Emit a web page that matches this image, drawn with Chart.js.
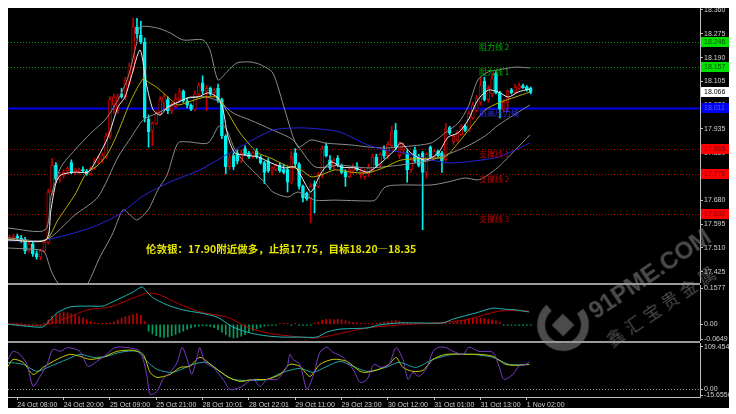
<!DOCTYPE html>
<html lang="zh-CN">
<head>
<meta charset="UTF-8">
<title>伦敦银 H1</title>
<script src="https://cdn.jsdelivr.net/npm/chart.js@4"></script>
<style>
  body { margin: 0; background: #fff; }
  #wrap { position: relative; width: 736px; height: 414px; overflow: hidden; background: #fff; }
  #board { position: absolute; left: 8px; top: 8px; width: 721px; height: 400px; background: #000; }
  canvas { position: absolute; left: 8px; }
  .sep { position: absolute; left: 8px; width: 692px; height: 2px; background: #9a9a9a; }
  #note {
    position: absolute; left: 146px; top: 241px; line-height: 14px;
    font: bold 10.5px "Noto Sans CJK SC", sans-serif; color: #e6e600; white-space: nowrap;
  }
  #wm { position: absolute; left: 537px; top: 299px; width: 220px; height: 80px;
        transform: rotate(-34deg); transform-origin: 26px 26px; color: rgba(150,150,150,0.5); }
  #wm .ring { position: absolute; left: 0; top: 0; width: 36px; height: 36px; border-radius: 50%;
              border: 8px solid rgba(150,150,150,0.5); border-top-color: transparent; transform: rotate(40deg); }
  #wm .sq { position: absolute; left: 18px; top: 18px; width: 16px; height: 16px; background: rgba(150,150,150,0.5); transform: rotate(-12deg); }
  #wm .t1 { position: absolute; left: 56px; top: 18px; font: bold 24px "Liberation Sans", sans-serif; white-space: nowrap; }
  #wm .t2 { position: absolute; left: 54px; top: 52px; font: 17px "Noto Sans CJK SC", sans-serif; letter-spacing: 5px; white-space: nowrap; }
</style>
</head>
<body>
<div id="wrap">
  <div id="board"></div>
  <canvas id="priceChart" width="721" height="275" style="top:8px;width:721px;height:275px"></canvas>
  <div class="sep" style="top:283px"></div>
  <canvas id="macdChart" width="721" height="56" style="top:285px;width:721px;height:56px"></canvas>
  <div class="sep" style="top:341px"></div>
  <canvas id="stochChart" width="721" height="65" style="top:343px;width:721px;height:65px"></canvas>
  <div id="note">伦敦银：17.90附近做多，止损17.75，目标18.20—18.35</div>
  <div id="wm"><div class="ring"></div><div class="sq"></div><div class="t1">91PME.COM</div><div class="t2">鑫汇宝贵金属</div></div>
</div>

<script>
// ---- data (H1 bars, index 0 = 24 Oct 06:00) ----
const timeLabels = ['24 Oct 08:00','24 Oct 20:00','25 Oct 09:00','25 Oct 21:00','28 Oct 10:01','28 Oct 22:01',
                    '29 Oct 11:00','29 Oct 23:00','30 Oct 12:00','31 Oct 01:00','31 Oct 13:00','1 Nov 02:00'];
const timeTickIdx = [2, 14, 26, 38, 50, 62, 74, 86, 98, 110, 122, 134];

const open = [17.545,17.548,17.552,17.545,17.540,17.500,17.525,17.490,17.478,17.500,
  17.530,17.710,17.805,17.755,17.770,17.785,17.815,17.780,17.785,17.790,
  17.785,17.775,17.795,17.820,17.825,17.835,17.910,18.020,18.000,18.060,
  18.050,18.100,18.150,18.300,18.270,18.245,17.970,17.930,17.955,17.990,
  18.030,18.040,18.000,18.015,18.040,18.070,18.035,18.020,18.005,18.060,
  18.100,18.070,18.080,18.065,18.080,18.040,17.910,17.800,17.840,17.850,
  17.820,17.865,17.850,17.835,17.855,17.835,17.815,17.820,17.785,17.790,
  17.805,17.790,17.790,17.745,17.850,17.810,17.730,17.705,17.690,17.740,
  17.730,17.770,17.875,17.825,17.800,17.830,17.805,17.785,17.765,17.785,
  17.800,17.775,17.765,17.775,17.790,17.835,17.805,17.860,17.840,17.875,
  17.930,17.840,17.860,17.850,17.790,17.860,17.835,17.850,17.780,17.870,
  17.835,17.855,17.850,17.825,17.940,17.890,17.895,17.915,17.945,17.930,
  17.975,18.000,18.030,18.105,18.040,18.060,18.135,18.065,18.005,18.030,
  18.075,18.065,18.080,18.090,18.085,18.080];
const high = [17.555,17.560,17.560,17.555,17.548,17.530,17.530,17.500,17.505,17.535,
  17.720,17.830,17.815,17.780,17.790,17.800,17.825,17.795,17.795,17.800,
  17.790,17.800,17.830,17.840,17.850,17.920,18.050,18.060,18.060,18.080,
  18.120,18.170,18.330,18.330,18.320,18.260,17.985,17.960,18.000,18.050,
  18.060,18.050,18.030,18.060,18.080,18.075,18.045,18.025,18.070,18.100,
  18.125,18.090,18.085,18.080,18.095,18.045,17.915,17.845,17.850,17.860,
  17.860,17.875,17.855,17.855,17.865,17.840,17.820,17.830,17.800,17.810,
  17.815,17.810,17.800,17.855,17.865,17.815,17.735,17.710,17.740,17.750,
  17.780,17.875,17.885,17.840,17.830,17.840,17.810,17.790,17.795,17.810,
  17.815,17.795,17.790,17.810,17.845,17.845,17.850,17.875,17.890,17.945,
  17.955,17.890,17.885,17.860,17.835,17.870,17.845,17.855,17.850,17.875,
  17.860,17.860,17.855,17.955,17.945,17.915,17.930,17.950,17.950,18.000,
  18.030,18.055,18.120,18.120,18.090,18.135,18.140,18.070,18.040,18.075,
  18.080,18.095,18.100,18.095,18.090,18.085];
const low = [17.535,17.540,17.538,17.530,17.490,17.495,17.480,17.470,17.468,17.495,
  17.525,17.700,17.745,17.745,17.760,17.775,17.775,17.772,17.775,17.780,
  17.770,17.770,17.790,17.810,17.815,17.830,17.900,17.990,17.990,18.045,
  18.040,18.090,18.140,18.260,18.240,17.960,17.870,17.875,17.950,17.985,
  18.000,17.990,17.990,18.010,18.030,18.030,18.010,18.000,18.000,18.050,
  18.060,18.000,18.055,18.050,18.030,17.900,17.775,17.790,17.790,17.810,
  17.815,17.840,17.830,17.830,17.830,17.810,17.740,17.780,17.770,17.785,
  17.780,17.775,17.710,17.740,17.800,17.720,17.675,17.680,17.600,17.635,
  17.725,17.760,17.835,17.790,17.790,17.800,17.775,17.730,17.760,17.775,
  17.785,17.760,17.755,17.765,17.785,17.800,17.800,17.830,17.830,17.870,
  17.860,17.830,17.845,17.745,17.780,17.815,17.800,17.575,17.760,17.830,
  17.830,17.835,17.780,17.820,17.915,17.880,17.890,17.910,17.925,17.925,
  17.970,17.995,18.020,18.035,18.030,18.050,18.060,17.975,17.995,18.000,
  18.060,18.060,18.075,18.080,18.070,18.060];
const close = [17.548,17.552,17.545,17.540,17.500,17.525,17.490,17.478,17.500,17.530,
  17.710,17.805,17.755,17.770,17.780,17.795,17.780,17.790,17.790,17.785,
  17.775,17.795,17.820,17.830,17.840,17.910,18.040,18.050,18.050,18.050,
  18.110,18.160,18.300,18.275,18.245,17.975,17.925,17.955,17.990,18.040,
  18.050,18.000,18.020,18.045,18.070,18.035,18.020,18.005,18.060,18.090,
  18.070,18.080,18.065,18.075,18.040,17.910,17.800,17.835,17.800,17.820,
  17.850,17.845,17.835,17.850,17.835,17.815,17.780,17.785,17.795,17.805,
  17.785,17.780,17.745,17.835,17.810,17.730,17.690,17.685,17.730,17.730,
  17.770,17.865,17.840,17.795,17.825,17.805,17.780,17.765,17.790,17.800,
  17.790,17.785,17.780,17.800,17.835,17.805,17.845,17.840,17.880,17.925,
  17.870,17.885,17.875,17.790,17.825,17.820,17.805,17.780,17.845,17.835,
  17.855,17.840,17.820,17.935,17.920,17.910,17.925,17.945,17.930,17.990,
  18.020,18.045,18.090,18.040,18.080,18.115,18.065,18.005,18.030,18.070,
  18.065,18.085,18.090,18.083,18.075,18.066];

// indicator lines: [bar index, value]
const maWhite = [[-0.4,17.539],[9.4,17.539],[10.7,17.646],[12,17.742],[13.3,17.771],[16.9,17.781],[20.3,17.781],[22.9,17.835],
  [25.5,17.906],[28.1,18.014],[29.9,18.049],[31.5,18.121],[33.8,18.217],[35.6,18.085],[37.2,18.003],[39,17.985],[41,18.014],
  [43.6,18.031],[46.2,18.046],[48.8,18.049],[51.4,18.064],[54,18.046],[55.3,18.003],[56.6,17.906],[58.4,17.849],[61,17.842],
  [64.4,17.835],[67.7,17.814],[71.3,17.796],[74,17.799],[76.5,17.742],[78.1,17.71],[80.7,17.778],[83.3,17.817],[85.9,17.799],
  [89.5,17.796],[92.8,17.781],[96.2,17.814],[99.8,17.86],[101.4,17.885],[104,17.849],[107.6,17.824],[111,17.849],[113.6,17.906],
  [116.2,17.921],[118.8,17.967],[121.3,18.039],[124,18.074],[126.6,18.067],[129.2,18.049],[131.7,18.067],[134.8,18.078]];
const maYellow = [[-0.4,17.539],[9.4,17.539],[12.5,17.61],[16.9,17.70],[19.8,17.775],[22.9,17.806],[25.5,17.849],[28.1,17.924],
  [31.5,18.039],[34.6,18.114],[35.9,18.103],[38.4,18.081],[41,18.049],[43.6,18.021],[46.2,18.031],[50.6,18.049],[54,18.046],
  [56.6,17.992],[59.2,17.931],[61.8,17.885],[64.4,17.849],[67.7,17.831],[71.3,17.806],[75.5,17.789],[78.1,17.764],[80.7,17.771],
  [84.3,17.789],[88.4,17.781],[92.8,17.778],[97.3,17.799],[101.4,17.824],[109.2,17.831],[112.8,17.835],[116.2,17.885],
  [119.5,17.942],[123.2,18.003],[126.6,18.028],[131,18.049],[134.8,18.067]];
const maBlue = [[-0.4,17.535],[9.2,17.539],[20.8,17.581],[28.1,17.628],[34.6,17.696],[41.6,17.746],[49.3,17.789],[59.2,17.867],
  [68.2,17.931],[75.2,17.939],[80.4,17.935],[85.6,17.924],[92.8,17.878],[97.3,17.86],[101.1,17.853],[109.2,17.824],
  [113.6,17.814],[118,17.817],[126.6,17.835],[134.8,17.885]];
const bbUpper = [[-0.4,17.581],[9.2,17.574],[10.7,17.692],[13.3,17.799],[16.9,17.86],[21.1,17.921],[24.7,17.967],[28.1,18.039],
  [30.7,18.121],[32.9,18.242],[33.8,18.299],[38.2,18.296],[41.6,18.278],[44.9,18.253],[50.1,18.253],[51.9,18.217],[54,18.11],
  [56.3,18.139],[58.9,18.171],[62.5,18.174],[65.1,18.164],[68.2,18.135],[71.3,18.003],[74.7,17.871],[78.1,17.896],[81.7,17.885],
  [88.4,17.878],[92.8,17.871],[97.3,17.867],[101.4,17.871],[109.2,17.885],[112.8,17.921],[116.2,17.956],[118.8,18.014],
  [121.3,18.11],[124,18.139],[126.6,18.146],[131,18.156],[134.8,18.153]];
const bbMiddle = [[-0.4,17.546],[9.4,17.539],[16.9,17.628],[22.9,17.692],[28.1,17.835],[31.5,17.906],[34.6,17.967],[39,17.996],
  [43.4,18.028],[46.7,18.049],[51.1,18.049],[54.5,18.031],[57.9,17.992],[62.3,17.967],[68.2,17.931],[73.4,17.896],[79.1,17.80],
  [85.6,17.806],[92.8,17.796],[101.1,17.806],[109.2,17.824],[118,17.87],[123.2,17.91],[126.6,17.949],[134.8,18.021]];
const bbLower = [[-0.4,17.51],[7.9,17.503],[9.2,17.492],[10.7,17.431],[12.5,17.385],[15.6,17.353],[19.5,17.367],[23.4,17.478],
  [26.5,17.556],[29.4,17.646],[31.2,17.628],[33,17.61],[35.9,17.646],[38.4,17.717],[40.8,17.771],[43.6,17.885],[46.2,17.889],
  [51.4,17.885],[54,17.942],[55.3,17.949],[56.6,17.921],[58.4,17.86],[61,17.814],[63.6,17.778],[66.2,17.742],[68.2,17.71],
  [72.1,17.692],[74.7,17.71],[79.1,17.681],[84.3,17.681],[92.8,17.678],[94.7,17.681],[97.3,17.728],[101.4,17.735],
  [109.2,17.735],[113.6,17.746],[118,17.76],[121.3,17.753],[123.2,17.764],[126.6,17.799],[131,17.86],[134.8,17.914]];

const levelValues = [18.246, 18.157, 18.011, 17.865, 17.776, 17.630];
const levelNames  = ['阻力线 2', '阻力线 1', '前高压力线', '支撑线 1', '支撑线 2', '支撑线 3'];
const lastPrice = 18.066;
const priceTicks = [18.360, 18.275, 18.190, 18.105, 18.020, 17.935, 17.850, 17.765, 17.680, 17.595, 17.510, 17.425];

const macdHist = [0.002,0.002,0.001,0.001,-0.002,-0.002,-0.003,-0.003,-0.002,0.001,
  0.02,0.035,0.045,0.05,0.052,0.05,0.046,0.04,0.034,0.028,
  0.02,0.013,0.007,0.004,0.003,0.003,0.006,0.012,0.02,0.027,
  0.033,0.038,0.043,0.047,0.04,0.012,-0.03,-0.042,-0.05,-0.055,
  -0.057,-0.055,-0.05,-0.044,-0.037,-0.03,-0.022,-0.016,-0.011,-0.008,
  -0.006,-0.007,-0.01,-0.015,-0.024,-0.035,-0.045,-0.055,-0.06,-0.058,
  -0.052,-0.045,-0.037,-0.028,-0.02,-0.013,-0.008,-0.005,-0.003,-0.002,
  0.002,0.002,0.002,-0.002,0.002,-0.002,-0.004,-0.005,-0.004,0.002,
  0.01,0.018,0.022,0.022,0.02,0.022,0.02,0.016,0.012,0.009,
  0.006,0.004,0.003,0.003,0.004,0.005,0.007,0.01,0.012,0.016,
  0.018,0.014,0.01,0.006,0.004,0.003,0.002,0.002,0.002,0.003,
  0.003,0.002,0.003,0.004,0.006,0.008,0.012,0.016,0.02,0.024,
  0.027,0.026,0.026,0.025,0.022,0.02,0.016,0.01,-0.002,-0.002,
  -0.002,-0.002,-0.002,-0.002,-0.002,-0.002];
const macdMain = [[-0.4,0],[6.1,-0.011],[8.7,-0.011],[10.5,0.019],[12.3,0.05],[15.6,0.076],[20.1,0.08],[24.2,0.08],[26,0.093],
  [29.4,0.12],[32,0.142],[34.3,0.164],[35.6,0.142],[37.2,0.116],[40.8,0.085],[44.9,0.063],[49.3,0.05],[53.7,0.032],
  [57.9,-0.012],[62.3,-0.038],[66.7,-0.051],[70.8,-0.056],[75.2,-0.056],[79.6,-0.056],[82.2,-0.034],[85.6,-0.021],
  [92.6,-0.016],[95.7,-0.003],[100.9,0.006],[106,0.006],[112.3,0.006],[114.9,0.023],[120.8,0.05],[125.2,0.071],
  [127.8,0.067],[131.2,0.063],[134.6,0.054]];
const macdSignal = [[-0.4,0.001],[8.7,-0.003],[14.9,0.028],[20.1,0.063],[26,0.076],[32,0.115],[35.6,0.137],[39,0.128],
  [43.4,0.093],[49.3,0.054],[56.3,0.032],[61.5,-0.012],[66.7,-0.038],[75.2,-0.056],[79.6,-0.06],[83.8,-0.047],
  [92.6,-0.016],[100.9,-0.003],[109.7,0.006],[118.2,0.019],[126.8,0.058],[134.6,0.058]];
const macdTicks = [0.1577, 0, -0.0649];
const macdTickText = ['0.1577', '0.00', '-0.0649'];

const stochFast = [[-0.4,77.6],[0.9,98.3],[2.7,90.5],[4.5,64.7],[6.1,7.8],[7.9,33.6],[9.7,64.7],[11.2,103.5],[13.1,98.3],
  [15.1,108],[18.2,98.3],[20.3,59.5],[22.6,72.4],[25.2,90.5],[27.3,108],[30.4,108],[33.8,98.3],[35.6,33.6],[36.4,-12.9],
  [38.2,-5.2],[39.7,25.9],[41.6,44],[43.4,69.8],[44.7,108.7],[46,77.6],[47.2,38.8],[48.6,85.4],[49.3,108],[50.6,69.8],
  [52.7,56.9],[55.3,25.9],[57.1,0],[59.7,5.2],[63.1,25.9],[64.9,7.8],[66.7,25.9],[69.3,25.9],[71.9,59.5],[72.6,90.5],
  [73.4,77.6],[75.2,64.7],[77,0],[78.6,33.6],[80.4,95.7],[82.2,108.7],[83.8,95.7],[86.4,82.8],[89,51.7],[90.8,18.1],
  [92.6,25.9],[94.4,64.7],[96.2,56.9],[98.3,64.7],[100.1,108],[101.9,77.6],[103.2,25.9],[104.5,44],[106,33.6],[107.9,51.7],
  [109.7,98.3],[111.2,108.7],[113,108],[114.9,98.3],[117.5,90.5],[119,108.7],[121.6,98.3],[125.2,95.7],[126.8,59.5],
  [128.1,25.9],[130.4,38.8],[131.9,59.5],[133.8,64.7],[134.6,72.4]];
const stochMain = [[-0.4,59.5],[0.9,77.6],[3.5,69.8],[6.1,38.8],[8.7,56.9],[12.3,77.6],[15.6,90.5],[18.2,85.4],[20.8,77.6],
  [24.2,82.8],[27.8,98.3],[32,100.9],[34.6,90.5],[36.4,44],[38.2,31],[41.6,38.8],[44.2,56.9],[46.7,59.5],[49.3,82.8],
  [52.7,59.5],[56.3,33.6],[59.7,20.7],[63.1,25.9],[66.7,25.9],[70.1,38.8],[72.6,64.7],[75.2,59.5],[77.8,33.6],[80.4,64.7],
  [83.8,77.6],[87.4,72.4],[90.8,46.6],[92.3,44],[95.7,51.7],[98.3,64.7],[100.1,82.8],[101.9,56.9],[104.5,46.6],[107.1,49.2],
  [109.7,77.6],[113,90.5],[118.2,90.5],[121.6,90.5],[125.2,85.4],[128.5,64.7],[131.9,62.1],[134.6,64.7]];
const stochSignal = [[-0.4,69.8],[3.5,64.7],[7.1,46.6],[10.5,59.5],[14.9,77.6],[18.2,90.5],[21.6,82.8],[25.2,85.4],[28.6,95.7],
  [33,98.3],[35.6,72.4],[38.2,51.7],[42.3,44],[47.5,64.7],[51.1,69.8],[54.5,46.6],[57.9,25.9],[63.1,23.3],[66.7,25.9],
  [70.8,44],[75.2,54.3],[78.6,44],[82.2,59.5],[85.6,72.4],[89,59.5],[92.6,46.6],[97.5,56.9],[100.9,69.8],[105.3,56.9],
  [109.7,77.6],[114.9,90.5],[120,90.5],[125.2,82.8],[129.4,64.7],[134.6,64.7]];
const stochTicks = [109.4545, 0, -15.6556];
const stochTickText = ['109.4545', '0.00', '-15.6556'];

// ---- look ----
const AXIS_FONT = '"Liberation Sans Narrow", "Liberation Sans", sans-serif';
const X_MIN = -0.415, X_MAX = 178.86;
const BULL = '#c80000', BEAR = '#00f0f0';
const levelLook = [
  { line: '#00a000', width: 1, dash: [1, 2], text: '#00b000', tag: '#00e000', tagText: '#005000' },
  { line: '#00a000', width: 1, dash: [1, 2], text: '#00b000', tag: '#00e000', tagText: '#005000' },
  { line: '#0000f0', width: 2, dash: [],     text: '#3030ff', tag: '#0000f0', tagText: '#5a5aff' },
  { line: '#c00000', width: 1, dash: [1, 2], text: '#c00000', tag: '#ff0000', tagText: '#900000' },
  { line: '#c00000', width: 1, dash: [1, 2], text: '#c00000', tag: '#ff0000', tagText: '#900000' },
  { line: '#c00000', width: 1, dash: [1, 2], text: '#c00000', tag: '#ff0000', tagText: '#900000' }
];
const LEVEL_LABEL_AT = 121.6;

const pts = arr => arr.map(p => ({ x: p[0], y: p[1] }));
const idx = open.map((_, i) => i);
const upDown = idx.map(i => close[i] >= open[i]);

function line(data, color, order, width) {
  return { type: 'line', data: pts(data), borderColor: color, borderWidth: width || 1, pointRadius: 0,
           tension: 0.25, fill: false, order: order };
}

function sideAxis(min, max, tickVals, fmt) {
  return {
    position: 'right', min: min, max: max,
    afterBuildTicks: s => { s.ticks = tickVals.map(v => ({ value: v })); },
    afterFit: s => { s.width = 29; s.paddingTop = 0; s.paddingBottom = 0; },
    ticks: { color: '#d0d0d0', font: { family: AXIS_FONT, size: 7 }, padding: 1, autoSkip: false, callback: fmt },
    grid: { drawOnChartArea: false, drawTicks: true, tickLength: 3, color: '#c0c0c0' },
    border: { display: true, color: '#c0c0c0', width: 1 }
  };
}
const hiddenX = { type: 'linear', min: X_MIN, max: X_MAX, display: false, offset: false };
const quiet = { legend: { display: false }, tooltip: { enabled: false } };

// level lines, their names and the coloured price tags
const levelPlugin = {
  id: 'levels',
  beforeDatasetsDraw(chart) {
    const { ctx, chartArea: a, scales: { y } } = chart;
    ctx.save();
    levelValues.forEach((v, k) => {
      const py = Math.round(y.getPixelForValue(v)) + 0.5;
      ctx.strokeStyle = levelLook[k].line;
      ctx.lineWidth = levelLook[k].width;
      ctx.setLineDash(levelLook[k].dash);
      ctx.beginPath(); ctx.moveTo(a.left, py); ctx.lineTo(a.right, py); ctx.stroke();
    });
    ctx.restore();
  },
  afterDraw(chart) {
    const { ctx, chartArea: a, scales: { x, y } } = chart;
    ctx.save();
    ctx.textBaseline = 'top';
    ctx.font = '8px "Noto Sans CJK SC", sans-serif';
    levelValues.forEach((v, k) => {
      const py = Math.round(y.getPixelForValue(v));
      ctx.fillStyle = levelLook[k].text;
      ctx.fillText(levelNames[k], x.getPixelForValue(LEVEL_LABEL_AT), py + 1);
    });
    const tag = (v, bg, fg) => {
      const py = Math.round(y.getPixelForValue(v));
      ctx.fillStyle = bg;
      ctx.fillRect(a.right + 1, py - 5, 28, 10);
      ctx.fillStyle = fg;
      ctx.textBaseline = 'middle';
      ctx.font = '7px ' + AXIS_FONT;
      ctx.fillText(v.toFixed(3), a.right + 4, py + 0.5);
    };
    levelValues.forEach((v, k) => tag(v, levelLook[k].tag, levelLook[k].tagText));
    tag(lastPrice, '#ffffff', '#000000');
    ctx.restore();
  }
};

new Chart(document.getElementById('priceChart'), {
  type: 'bar',
  data: {
    datasets: [
      line(maWhite, '#ececec', 1),
      line(maYellow, '#b8b000', 2),
      line(maBlue, '#2424e0', 3),
      line(bbUpper, '#8c8c8c', 4),
      line(bbMiddle, '#8c8c8c', 4),
      line(bbLower, '#8c8c8c', 4),
      { type: 'bar', data: idx.map(i => ({ x: i, y: [open[i], close[i]] })), grouped: false, barThickness: 3,
        minBarLength: 1, borderWidth: 1, borderSkipped: false,
        backgroundColor: upDown.map(u => u ? '#000000' : BEAR),
        borderColor: upDown.map(u => u ? BULL : BEAR), order: 9 },
      { type: 'bar', data: idx.map(i => ({ x: i, y: [low[i], high[i]] })), grouped: false, barThickness: 1,
        backgroundColor: upDown.map(u => u ? BULL : BEAR), order: 10 }
    ]
  },
  options: {
    responsive: false, animation: false, layout: { padding: 0 },
    plugins: quiet,
    scales: {
      x: hiddenX,
      y: sideAxis(17.385, 18.3671, priceTicks, v => v.toFixed(3))
    }
  },
  plugins: [levelPlugin]
});

new Chart(document.getElementById('macdChart'), {
  type: 'bar',
  data: {
    datasets: [
      line(macdMain, '#20b4b4', 1),
      line(macdSignal, '#b40000', 2),
      { type: 'bar', data: idx.map(i => ({ x: i, y: macdHist[i] })), grouped: false, barThickness: 1, minBarLength: 1,
        backgroundColor: macdHist.map(h => h >= 0 ? '#c00000' : '#00a060'), order: 5 }
    ]
  },
  options: {
    responsive: false, animation: false, layout: { padding: 0 },
    plugins: quiet,
    scales: {
      x: hiddenX,
      y: sideAxis(-0.0732, 0.1724, macdTicks, (v, i) => macdTickText[i])
    }
  }
});

const zeroLevel = {
  id: 'zeroLevel',
  beforeDatasetsDraw(chart) {
    const { ctx, chartArea: a, scales: { y } } = chart;
    const py = Math.round(y.getPixelForValue(0)) + 0.5;
    ctx.save();
    ctx.strokeStyle = '#9a9a9a';
    ctx.setLineDash([1, 2]);
    ctx.beginPath(); ctx.moveTo(a.left, py); ctx.lineTo(a.right, py); ctx.stroke();
    ctx.restore();
  }
};

new Chart(document.getElementById('stochChart'), {
  type: 'line',
  data: {
    datasets: [
      line(stochSignal, '#1fa3a3', 3),
      line(stochMain, '#c8c800', 2),
      line(stochFast, '#7a3cc8', 1)
    ]
  },
  options: {
    responsive: false, animation: false, layout: { padding: 0 },
    plugins: quiet,
    scales: {
      x: {
        type: 'linear', min: X_MIN, max: X_MAX, position: 'bottom', offset: false,
        afterBuildTicks: s => { s.ticks = timeTickIdx.map(v => ({ value: v })); },
        afterFit: s => { s.height = 11; s.paddingLeft = 0; s.paddingRight = 0; },
        ticks: { color: '#d0d0d0', font: { family: AXIS_FONT, size: 7 }, align: 'start', padding: 1,
                 autoSkip: false, maxRotation: 0, minRotation: 0, callback: (v, i) => timeLabels[i] },
        grid: { drawOnChartArea: false, drawTicks: true, tickLength: 3, color: '#c0c0c0' },
        border: { display: true, color: '#c0c0c0' }
      },
      y: sideAxis(-19.52, 119.77, stochTicks, (v, i) => stochTickText[i])
    }
  },
  plugins: [zeroLevel]
});
</script>
</body>
</html>
